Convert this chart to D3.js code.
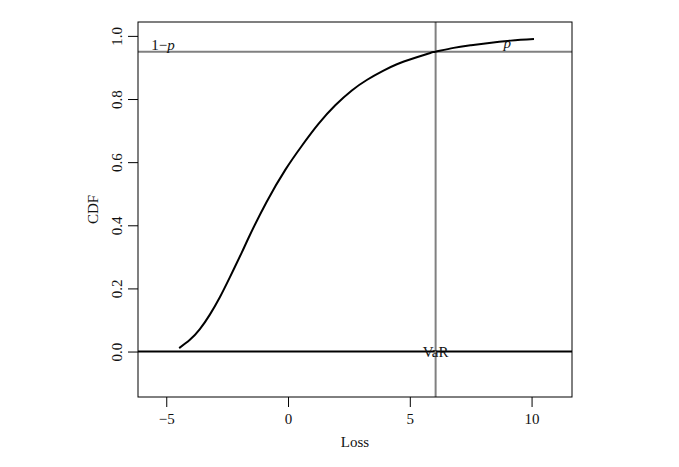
<!DOCTYPE html>
<html>
<head>
<meta charset="utf-8">
<script src="https://cdn.jsdelivr.net/npm/d3@7"></script>
<style>
  html, body { margin: 0; padding: 0; background: #fff; }
  svg { display: block; }
  text { font-family: "Liberation Serif", "Times New Roman", serif; fill: #111; }
</style>
</head>
<body>
<script>
// ---- data ----
const lossX = [-4.47, -4.03, -3.62, -3.21, -2.80, -2.39, -1.91, -1.56, -0.88, -0.10, 0.57, 1.25, 1.94, 2.62, 3.25, 3.90, 4.47, 5.16, 5.84, 6.06, 6.80, 7.49, 8.18, 9.14, 10.10];
const cdfY  = [0.011, 0.037, 0.071, 0.117, 0.172, 0.235, 0.312, 0.370, 0.474, 0.577, 0.652, 0.721, 0.780, 0.827, 0.861, 0.889, 0.910, 0.929, 0.946, 0.950, 0.962, 0.970, 0.977, 0.985, 0.990];
const xTicks = [-5, 0, 5, 10];
const yTicks = [0, 0.2, 0.4, 0.6, 0.8, 1.0];
const level = 0.95;      // 1 - p
const varValue = 6.06;   // VaR
const xLim = [-5.5, 11];
const yLim = [-0.1, 1];

const W = 679, H = 467;
const margin = {left: 138, top: 22, right: 107, bottom: 70};
const pw = W - margin.left - margin.right, ph = H - margin.top - margin.bottom;

const ext = (l) => { const d = (l[1] - l[0]) * 0.04; return [l[0] - d, l[1] + d]; };
const x = d3.scaleLinear().domain(ext(xLim)).range([0, pw]);
const y = d3.scaleLinear().domain(ext(yLim)).range([ph, 0]);

const svg = d3.select("body").append("svg").attr("width", W).attr("height", H);
const g = svg.append("g").attr("transform", `translate(${margin.left},${margin.top})`);

svg.append("defs").append("clipPath").attr("id", "clip")
  .append("rect").attr("width", pw).attr("height", ph);

const plot = g.append("g").attr("clip-path", "url(#clip)");

// reference lines
plot.append("line").attr("x1", 0).attr("x2", pw).attr("y1", y(0)).attr("y2", y(0))
  .attr("stroke", "#000").attr("stroke-width", 2);
plot.append("line").attr("x1", 0).attr("x2", pw).attr("y1", y(level)).attr("y2", y(level))
  .attr("stroke", "#808080").attr("stroke-width", 2);
plot.append("line").attr("x1", x(varValue)).attr("x2", x(varValue)).attr("y1", 0).attr("y2", ph)
  .attr("stroke", "#808080").attr("stroke-width", 2);

// CDF curve
const pts = lossX.map((v, i) => [v, cdfY[i]]);
plot.append("path").datum(pts)
  .attr("fill", "none").attr("stroke", "#000").attr("stroke-width", 2)
  .attr("d", d3.line().x(d => x(d[0])).y(d => y(d[1])).curve(d3.curveNatural));

// labels
const lab1 = g.append("text").attr("x", x(-5.13)).attr("y", y(level) - 1.5)
  .attr("text-anchor", "middle").style("font-size", "15px");
lab1.append("tspan").text("1\u2212");
lab1.append("tspan").style("font-style", "italic").text("p");

g.append("text").attr("x", x(9.0)).attr("y", y(level) - 3.5)
  .attr("text-anchor", "middle").style("font-size", "15px").style("font-style", "italic").text("p");

g.append("text").attr("x", x(varValue)).attr("y", y(0) + 5.5)
  .attr("text-anchor", "middle").style("font-size", "15px").text("VaR");

// box
g.append("rect").attr("width", pw).attr("height", ph)
  .attr("fill", "none").attr("stroke", "#000").attr("stroke-width", 1);

// axes
const xAxis = g.append("g").attr("transform", `translate(0,${ph})`)
  .call(d3.axisBottom(x).tickValues(xTicks).tickSize(10).tickPadding(6));
xAxis.select(".domain").remove();
xAxis.selectAll("text").style("font-size", "15px").style("font-family", "Liberation Serif, serif").attr("fill", "#111");

const yAxis = g.append("g")
  .call(d3.axisLeft(y).tickValues(yTicks).tickSize(10).tickFormat(d3.format(".1f")));
yAxis.select(".domain").remove();
yAxis.selectAll("text")
  .attr("x", null).attr("dy", null)
  .attr("transform", "translate(-16,0) rotate(-90)")
  .attr("text-anchor", "middle")
  .style("font-size", "15px").style("font-family", "Liberation Serif, serif").attr("fill", "#111");

// axis titles
g.append("text").attr("x", pw / 2).attr("y", ph + 49.5)
  .attr("text-anchor", "middle").style("font-size", "15px").text("Loss");
g.append("text").attr("transform", `translate(${98 - margin.left},${ph / 2}) rotate(-90)`)
  .attr("text-anchor", "middle").style("font-size", "15px").text("CDF");
</script>
</body>
</html>
